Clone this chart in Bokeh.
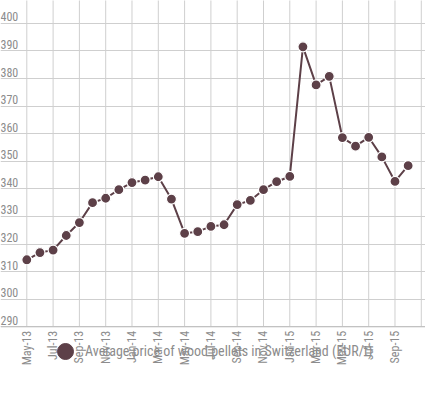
import math
from bokeh.plotting import figure
from bokeh.models import (FixedTicker, Range1d, Legend, LegendItem, ColumnDataSource,
                          Grid, Span)
from bokeh.core.properties import value
from bokeh.embed import file_html
from bokeh.resources import INLINE

months = ["May-13", "Jun-13", "Jul-13", "Aug-13", "Sep-13", "Oct-13", "Nov-13", "Dec-13",
          "Jan-14", "Feb-14", "Mar-14", "Apr-14", "May-14", "Jun-14", "Jul-14", "Aug-14",
          "Sep-14", "Oct-14", "Nov-14", "Dec-14", "Jan-15", "Feb-15", "Mar-15", "Apr-15",
          "May-15", "Jun-15", "Jul-15", "Aug-15", "Sep-15", "Oct-15"]
prices = [314.3, 316.9, 317.8, 323.1, 327.8, 335.0, 336.6, 339.7,
          342.3, 343.2, 344.4, 336.3, 323.9, 324.5, 326.4, 327.0,
          334.3, 335.8, 339.7, 342.6, 344.5, 391.5, 377.7, 380.8,
          358.6, 355.5, 358.7, 351.6, 342.7, 348.4]
x_tick_labels = ["May-13", "Jul-13", "Sep-13", "Nov-13", "Jan-14", "Mar-14", "May-14",
                 "Jul-14", "Sep-14", "Nov.14", "Jan-15", "Mar-15", "May-15", "Jul-15",
                 "Sep-15", ""]
y_ticks = [290, 300, 310, 320, 330, 340, 350, 360, 370, 380, 390, 400, 410]
y_tick_labels = ["290", "300", "310", "320", "330", "340", "350", "360", "370", "380", "390", "400", ""]
series_name = "Average price of wood pellets in Switzerland (EUR/t)"

FONT = "Liberation Sans Narrow, Roboto Condensed, Roboto"
COLOR = "#5d4048"
GRID = "#cfcfcf"
TEXT = "#8c8c8c"

xs = list(range(len(months)))
x_ticks = [2 * i for i in range(len(x_tick_labels))]

# One frame covering the whole figure; the area below 290 holds the
# month labels and the legend.
p = figure(width=425, height=399, output_backend="svg", toolbar_location=None,
           x_axis_type=None, y_axis_type=None,
           x_range=Range1d(-2.0, 30.32), y_range=Range1d(263.64, 408.3),
           min_border_left=0, min_border_right=0, min_border_top=0, min_border_bottom=0)
p.outline_line_color = None
p.background_fill_color = "white"
p.border_fill_color = "white"

# horizontal gridlines
p.add_layout(Grid(dimension=1, ticker=FixedTicker(ticks=y_ticks),
                  grid_line_color=GRID, grid_line_width=1))
# vertical gridlines, stopping at the axis line
p.segment(x0=x_ticks, y0=[y_ticks[0]] * len(x_ticks),
          x1=x_ticks, y1=[y_ticks[-1]] * len(x_ticks),
          line_color=GRID, line_width=1)
# axis line
p.add_layout(Span(location=y_ticks[0], dimension="width",
                  line_color="#bdbdbd", line_width=1))

# y labels inside the plot, above their gridlines
lbl_src = ColumnDataSource(dict(x=[-2.0] * len(y_ticks), y=y_ticks, t=y_tick_labels))
p.text(x="x", y="y", text="t", source=lbl_src, text_font=value(FONT),
       text_font_size="12px", text_color=TEXT, text_baseline="bottom",
       text_align="left", y_offset=-2)

# month labels, vertical, below the axis line
xl_src = ColumnDataSource(dict(x=x_ticks, y=[y_ticks[0]] * len(x_ticks), t=x_tick_labels))
p.text(x="x", y="y", text="t", source=xl_src, angle=math.pi / 2,
       text_font=value(FONT), text_font_size="12px", text_color=TEXT,
       text_align="right", text_baseline="middle", y_offset=4)

src = ColumnDataSource(dict(x=xs, y=prices))
p.line(x="x", y="y", source=src, line_color=COLOR, line_width=2)
p.scatter(x="x", y="y", source=src, size=10, fill_color=COLOR,
          line_color="white", line_width=1.2)

dummy = p.scatter(x=[-100], y=[-100], size=15, fill_color=COLOR, line_color=COLOR)
legend = Legend(items=[LegendItem(label=series_name, renderers=[dummy])],
                location=(45, 28), orientation="horizontal")
legend.label_text_font = FONT
legend.label_text_font_size = "14px"
legend.label_text_color = TEXT
legend.border_line_color = None
legend.background_fill_alpha = 0
legend.glyph_width = 40
legend.glyph_height = 40
legend.label_height = 16
legend.label_standoff = 0
legend.padding = 0
legend.margin = 0
legend.spacing = 0
p.add_layout(legend, "center")

open("out.html", "w").write(file_html(p, INLINE))
